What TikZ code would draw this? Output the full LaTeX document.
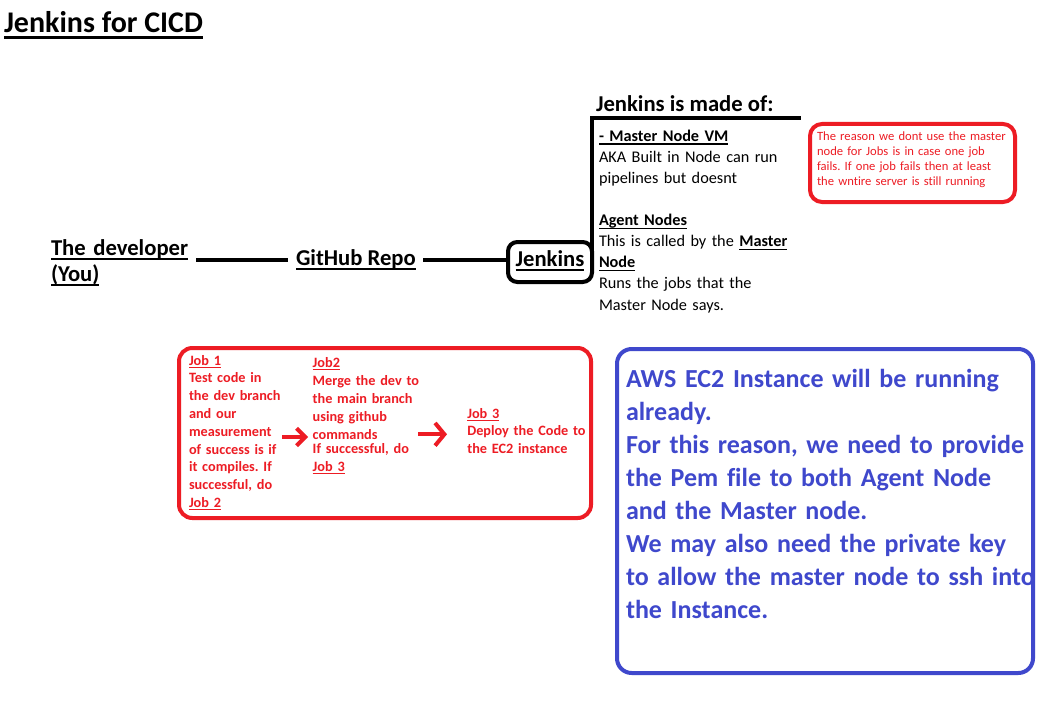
\documentclass[tikz,border=0pt]{standalone}
\usepackage{fontspec}
\setmainfont{Carlito}[Ligatures=NoCommon]
\usetikzlibrary{arrows.meta}
\definecolor{pred}{RGB}{237,28,36}
\definecolor{pblue}{RGB}{63,72,204}
\newcommand\uln[1]{\leavevmode\setbox0=\hbox{#1}\rlap{\rule[-0.2em]{\wd0}{0.08em}}\box0}
\frenchspacing
\begin{document}
\begin{tikzpicture}[x=0.75pt,y=-0.75pt,
  txt/.style={anchor=base west, inner sep=0pt, outer sep=0pt, align=left},
  blk/.style={line width=3pt, draw=black},
  redarrow/.style={line width=3pt, draw=pred},
  roundbox/.style={draw, line width=3pt, inner sep=0pt, outer sep=0pt},
  bigbold/.style={font=\fontsize{17pt}{19.5pt}\selectfont\bfseries}
]
\fill[white] (0,0) rectangle (1061,710);
\useasboundingbox (0,0) rectangle (1061,710);

% title
\node[txt, font=\fontsize{22.5pt}{26pt}\selectfont\bfseries] (title) at (4,32.7) {\uln{Jenkins for CICD}};

% main chain
\node[txt, text width=150pt, bigbold] (dev) at (51,255) {\uln{The developer}\\\uln{(You)}};
\node[txt, bigbold] (gh) at (296,265) {\uln{GitHub Repo}};
\node[roundbox, rounded corners=7pt, anchor=base, minimum width=63pt, text height=18pt, text depth=12pt, bigbold] (jen) at (550,266) {\uln{Jenkins}};

\coordinate (l1a) at (196,259.5);
\coordinate (l1b) at (288,259.5);
\coordinate (l2a) at (423,259.5);
\draw[blk] (l1a) -- (l1b);
\draw[blk] (l2a) -- (l2a -| jen.west);

% bracket to "made of"
\coordinate (brk) at (801,118.5);
\draw[blk] (jen.east) |- (brk);

\node[txt, bigbold] (made) at (596,112) {Jenkins is made of:};

\node[txt, text width=200pt, font=\fontsize{12.2pt}{15.8pt}\selectfont] (parts) at (599,141.5)
{\textbf{\uln{- Master Node VM}}\\
AKA Built in Node can run\\
pipelines but doesnt\\[15.8pt]
\textbf{\uln{Agent Nodes}}\\
This is called by the \textbf{\uln{Master}}\\
\textbf{\uln{Node}}\\
Runs the jobs that the\\
Master Node says.};

% note box
\node[roundbox, draw=pred, rounded corners=9pt, minimum width=153.75pt, minimum height=58.5pt] (notebox) at (912.5,163) {};
\node[txt, text width=160pt, text=pred, font=\fontsize{9.45pt}{11.25pt}\selectfont] (note) at (817,140.7)
{The reason we dont use the master\\
node for Jobs is in case one job\\
fails. If one job fails then at least\\
the wntire server is still running};

% jobs box
\node[roundbox, draw=pred, rounded corners=10pt, minimum width=309pt, minimum height=127.5pt] (jobsbox) at (385,433) {};
\node[txt, text width=100pt, text=pred, font=\fontsize{10.7pt}{13.35pt}\selectfont\bfseries] (job1) at (189,365)
{\uln{Job 1}\\
Test code in\\
the dev branch\\
and our\\
measurement\\
of success is if\\
it compiles. If\\
successful, do\\
\uln{Job 2}};
\node[txt, text width=110pt, text=pred, font=\fontsize{10.7pt}{13.5pt}\selectfont\bfseries] (job2) at (312.7,367.3)
{\uln{Job2}\\
Merge the dev to\\
the main branch\\
using github\\
commands\\[-3pt]
If successful, do\\
\uln{Job 3}};
\node[txt, text width=110pt, text=pred, font=\fontsize{10.7pt}{13.1pt}\selectfont\bfseries] (job3) at (467.3,418.3)
{\uln{Job 3}\\
Deploy the Code to\\
the EC2 instance};

\coordinate (a1s) at (282,437);
\coordinate (a1e) at (308,437);
\coordinate (a2s) at (418,434.3);
\coordinate (a2e) at (447,434.3);
\draw[redarrow, -{Straight Barb[length=6.5pt,width=13pt]}] (a1s) -- (a1e);
\draw[redarrow, -{Straight Barb[length=7pt,width=17pt]}] (a2s) -- (a2e);

% blue box
\node[roundbox, draw=pblue, rounded corners=11pt, minimum width=312pt, minimum height=243pt] (awsbox) at (825,511) {};
\node[txt, text width=320pt, text=pblue, font=\fontsize{19.5pt}{24.85pt}\selectfont\bfseries] (aws) at (626,387)
{AWS EC2 Instance will be running\\
already.\\
For this reason, we need to provide\\
the Pem file to both Agent Node\\
and the Master node.\\
We may also need the private key\\
to allow the master node to ssh into\\
the Instance.};
\end{tikzpicture}
\end{document}
